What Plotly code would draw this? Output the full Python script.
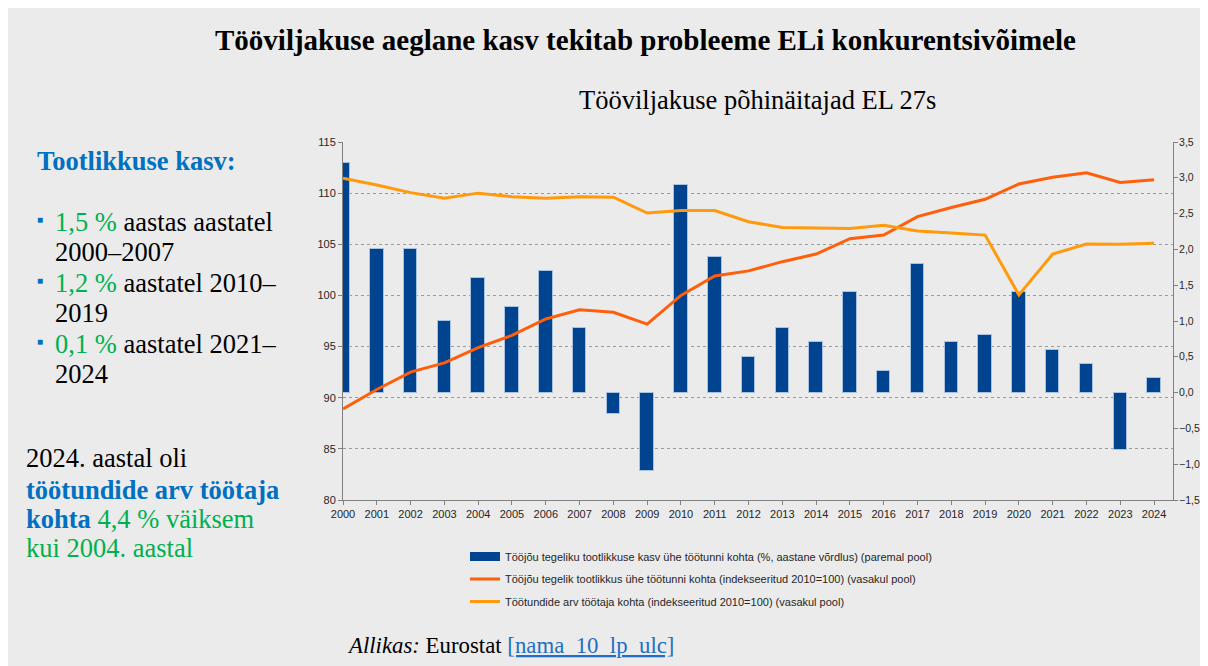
import plotly.graph_objects as go

years = list(range(2000, 2025))
growth = [3.2, 2.0, 2.0, 1.0, 1.6, 1.2, 1.7, 0.9, -0.3, -1.1, 2.9, 1.9, 0.5, 0.9, 0.7,
          1.4, 0.3, 1.8, 0.7, 0.8, 1.4, 0.6, 0.4, -0.8, 0.2]
productivity = [88.9, 90.8, 92.5, 93.4, 94.9, 96.1, 97.7, 98.6, 98.35, 97.2, 100.0, 101.9,
                102.4, 103.3, 104.05, 105.55, 105.9, 107.7, 108.6, 109.4, 110.9, 111.55,
                112.0, 111.05, 111.3]
hours = [111.45, 110.8, 110.05, 109.5, 110.0, 109.65, 109.5, 109.65, 109.6, 108.05, 108.3,
         108.3, 107.2, 106.65, 106.6, 106.55, 106.85, 106.3, 106.1, 105.9, 100.05, 104.05,
         105.03, 105.0, 105.1]

names = [
    "Tööjõu tegeliku tootlikkuse kasv ühe töötunni kohta (%, aastane võrdlus) (paremal pool)",
    "Tööjõu tegelik tootlikkus ühe töötunni kohta (indekseeritud 2010=100) (vasakul pool)",
    "Töötundide arv töötaja kohta (indekseeritud 2010=100) (vasakul pool)",
]

OFF = 8                      # page body margin
W, H = 1192, 658             # figure size
# plot area in page pixels
L, R, T, B = 343, 1173, 142, 500


def px(x):
    return (x - L) / (R - L)


def py(y):
    return (B - y) / (B - T)


BLUE = "#0070C0"
GREEN = "#00B050"
BAR = "#00438F"
SERIF = "Liberation Serif"
SANS = "Liberation Sans"

fig = go.Figure()
fig.add_trace(go.Bar(
    x=years, y=growth, name=names[0], yaxis="y", width=0.4,
    marker=dict(color=BAR, line=dict(color="#A9C1E2", width=1)),
    showlegend=False,
))
fig.add_trace(go.Scatter(
    x=years, y=productivity, name=names[1], yaxis="y2", mode="lines",
    line=dict(color="#FF5F0A", width=3), showlegend=False,
))
fig.add_trace(go.Scatter(
    x=years, y=hours, name=names[2], yaxis="y2", mode="lines",
    line=dict(color="#FF9A0D", width=3), showlegend=False,
))
# legend entries
for nm, col, w, grp in [(names[0], BAR, 9, "a"), (names[1], "#FF5F0A", 3, "b"),
                        (names[2], "#FF9A0D", 3, "c")]:
    fig.add_trace(go.Scatter(x=[None], y=[None], name=nm, yaxis="y2", mode="lines",
                             line=dict(color=col, width=w), legendgroup=grp,
                             showlegend=True, hoverinfo="skip"))

axis_font = dict(family=SANS, size=11, color="#262626")
right_font = dict(family=SANS, size=10.5, color="#262626")

fig.update_layout(
    width=W, height=H,
    margin=dict(l=L - OFF, r=W - (R - OFF), t=T - OFF, b=H - (B - OFF), pad=0,
                autoexpand=False),
    paper_bgcolor="#EBEBEB", plot_bgcolor="rgba(0,0,0,0)",
    separators=", ",
    showlegend=True,
    legend=dict(x=px(465), y=py(542), xanchor="left", yanchor="top",
                font=dict(family=SANS, size=11, color="#262626"),
                bgcolor="rgba(0,0,0,0)", traceorder="grouped", tracegroupgap=3.5,
                itemwidth=30),
    bargap=0,
    xaxis=dict(range=[2000, 2024.56], tickmode="array", tickvals=years,
               ticktext=[str(y) for y in years], ticks="outside", ticklen=4,
               tickcolor="#808080", showline=True, linecolor="#808080", linewidth=1,
               showgrid=False, zeroline=False, tickfont=axis_font, tickangle=0,
               automargin=False),
    yaxis=dict(side="right", range=[-1.5, 3.5], dtick=0.5, tick0=0, tickformat=".1f",
               ticks="outside", ticklen=4, tickcolor="#808080", showline=True,
               linecolor="#808080", linewidth=1, showgrid=False, zeroline=False,
               tickfont=right_font, automargin=False, ticklabelstandoff=-1),
    yaxis2=dict(side="left", overlaying="y", range=[80, 115], dtick=5, tick0=80,
                ticks="outside", ticklen=4, tickcolor="#808080", showline=True,
                linecolor="#808080", linewidth=1, showgrid=True, gridcolor="#9A9A9A",
                griddash="dot", gridwidth=1, zeroline=False, tickfont=axis_font,
                automargin=False),
)

ann = []


def text(x, y, t, size, anchor="left", color="#000000", family=SERIF):
    ann.append(dict(x=px(x), y=py(y), xref="paper", yref="paper", text=t, showarrow=False,
                    xanchor=anchor, yanchor="middle", align="left",
                    font=dict(family=family, size=size, color=color)))


text(645, 40, "<b>Tööviljakuse aeglane kasv tekitab probleeme ELi konkurentsivõimele</b>", 29,
     anchor="center")
text(757, 100, "Tööviljakuse põhinäitajad EL 27s", 26.5, anchor="center")

text(35, 161, "<b>Tootlikkuse kasv:</b>", 26.5, color=BLUE)


def g(s):
    return f"<span style='color:{GREEN}'>{s}</span>"


bullets = [
    (222, g("1,5 %") + " aastas aastatel"),
    (252, "2000–2007"),
    (283, g("1,2 %") + " aastatel 2010–"),
    (313, "2019"),
    (344, g("0,1 %") + " aastatel 2021–"),
    (374, "2024"),
]
for y, t in bullets:
    text(53, y, t, 26.5)
for y in (222, 283, 344):
    text(35, y - 3, "■", 10, color=BLUE, family=SANS)

text(24, 458, "2024. aastal oli", 26.5)
text(24, 490, "<b>töötundide arv töötaja</b>", 26.5, color=BLUE)
text(24, 519, "<b>kohta</b> " + g("4,4 % väiksem"), 26.5, color=BLUE)
text(24, 548, "kui 2004. aastal", 26.5, color=GREEN)

text(345, 645, "<i>Allikas:</i> Eurostat "
     "<span style='color:#1F6FC5;text-decoration:underline'>[nama_10_lp_ulc]</span>", 22.8)

fig.update_layout(annotations=ann)

fig.write_html("out.html")
